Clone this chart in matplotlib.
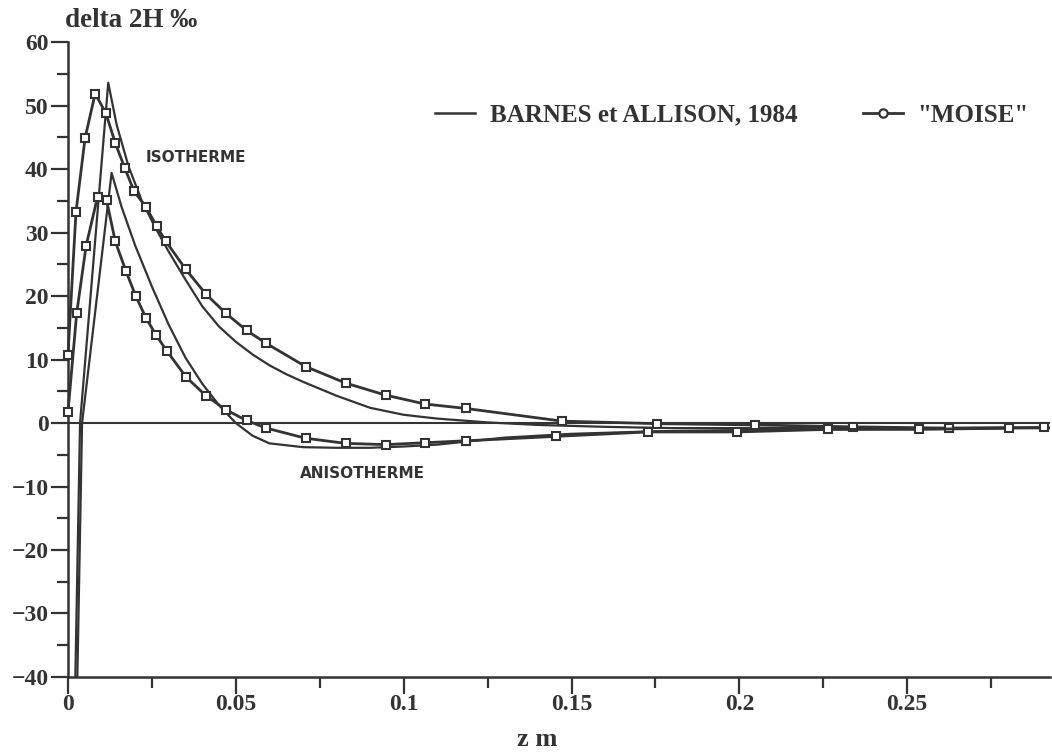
import matplotlib
matplotlib.use("Agg")
import matplotlib.pyplot as plt
from matplotlib.lines import Line2D
from matplotlib.ticker import MultipleLocator

# ---- data ----
barnes_iso_z = [0.0022, 0.0036, 0.0120, 0.0145, 0.0180, 0.0220, 0.0260, 0.0300,
                0.0350, 0.0400, 0.0450, 0.0500, 0.0550, 0.0600, 0.0650, 0.0700,
                0.0800, 0.0900, 0.1000, 0.1100, 0.1250, 0.1400, 0.1600, 0.1800,
                0.2000, 0.2300, 0.2600, 0.2950]
barnes_iso_d = [-40.0, 0.0, 53.6, 47.0, 40.5, 35.0, 30.8, 27.0,
                22.6, 18.4, 15.2, 12.8, 10.8, 9.1, 7.7, 6.5,
                4.3, 2.4, 1.3, 0.7, 0.1, -0.3, -0.6, -0.8,
                -0.8, -0.8, -0.8, -0.7]

barnes_aniso_z = [0.0028, 0.0042, 0.0130, 0.0160, 0.0200, 0.0250, 0.0300, 0.0350,
                  0.0400, 0.0450, 0.0500, 0.0550, 0.0600, 0.0700, 0.0800, 0.0900,
                  0.1000, 0.1100, 0.1300, 0.1500, 0.1750, 0.2000, 0.2500, 0.2950]
barnes_aniso_d = [-40.0, 0.0, 39.4, 34.0, 28.0, 21.5, 15.5, 10.3,
                  6.2, 2.8, 0.0, -2.0, -3.2, -3.8, -3.9, -3.9,
                  -3.7, -3.4, -2.3, -1.7, -1.3, -1.1, -0.9, -0.8]

moise_iso_z = [0.0, 0.0024, 0.0051, 0.0081, 0.0113, 0.0141, 0.0169, 0.0197, 0.0233,
               0.0264, 0.0292, 0.0351, 0.0411, 0.0470, 0.0532, 0.0589, 0.0708,
               0.0827, 0.0946, 0.1063, 0.1185, 0.1472, 0.1756, 0.2048, 0.2337,
               0.2625, 0.2908]
moise_iso_d = [10.7, 33.3, 44.9, 51.9, 48.8, 44.1, 40.2, 36.5, 34.0,
               31.0, 28.6, 24.2, 20.3, 17.3, 14.6, 12.6, 8.9,
               6.3, 4.4, 3.0, 2.3, 0.3, -0.1, -0.3, -0.6,
               -0.8, -0.7]

moise_aniso_z = [0.0, 0.0026, 0.0054, 0.0088, 0.0115, 0.0141, 0.0173, 0.0202, 0.0232,
                 0.0262, 0.0294, 0.0351, 0.0411, 0.0470, 0.0532, 0.0591, 0.0708,
                 0.0827, 0.0946, 0.1063, 0.1185, 0.1454, 0.1727, 0.1994, 0.2265,
                 0.2536, 0.2804]
moise_aniso_d = [1.7, 17.3, 27.9, 35.6, 35.1, 28.6, 23.9, 20.0, 16.6,
                 13.9, 11.4, 7.3, 4.3, 2.1, 0.4, -0.8, -2.4,
                 -3.2, -3.4, -3.1, -2.8, -2.1, -1.4, -1.4, -1.0,
                 -1.0, -0.8]

x_ticks = [0, 0.05, 0.1, 0.15, 0.2, 0.25]
x_tick_labels = ["0", "0.05", "0.1", "0.15", "0.2", "0.25"]
y_ticks = [-40, -30, -20, -10, 0, 10, 20, 30, 40, 50, 60]

ink = "#333333"
serif = ["Liberation Serif", "DejaVu Serif"]

fig = plt.figure(figsize=(10.52, 7.53), dpi=100)
ax = fig.add_axes([0.0646, 0.101, 0.9334, 0.843])

ax.axhline(0, color=ink, lw=1.5, zorder=1)

ax.plot(barnes_iso_z, barnes_iso_d, color=ink, lw=1.6, zorder=2)
ax.plot(barnes_aniso_z, barnes_aniso_d, color=ink, lw=1.6, zorder=2)
mk = dict(color=ink, lw=2.0, marker="s", markersize=5.5, markerfacecolor="white",
          markeredgecolor=ink, markeredgewidth=1.5, zorder=3, clip_on=False)
ax.plot(moise_iso_z, moise_iso_d, **mk)
ax.plot(moise_aniso_z, moise_aniso_d, **mk)

ax.set_xlim(0, 0.2925)
ax.set_ylim(-40, 60)
ax.spines["top"].set_visible(False)
ax.spines["right"].set_visible(False)
for s in ("left", "bottom"):
    ax.spines[s].set_color(ink)
    ax.spines[s].set_linewidth(1.8)

ax.set_xticks(x_ticks)
ax.set_xticklabels(x_tick_labels)
ax.set_yticks(y_ticks)
ax.xaxis.set_minor_locator(MultipleLocator(0.025))
ax.yaxis.set_minor_locator(MultipleLocator(5))
ax.tick_params(axis="both", which="major", length=12, width=1.6, color=ink,
               labelsize=17, labelcolor=ink, direction="out", pad=2)
ax.tick_params(axis="x", which="major", pad=0)
ax.tick_params(axis="both", which="minor", length=8, width=1.6, color=ink,
               direction="out")
for lab in ax.get_xticklabels() + ax.get_yticklabels():
    lab.set_family(serif)
    lab.set_fontweight("bold")

fig.text(0.511, 0.018, "z m", fontsize=19, family=serif, fontweight="bold",
         color=ink, va="center", ha="center")
fig.text(0.062, 0.990, "delta 2H \u2030", fontsize=19.5, family=serif,
         fontweight="bold", color=ink, va="top", ha="left")

ax.text(0.0230, 41.9, "ISOTHERME", fontsize=11, family="DejaVu Sans",
        fontweight="bold", color=ink, va="center", ha="left")
ax.text(0.0690, -7.9, "ANISOTHERME", fontsize=11, family="DejaVu Sans",
        fontweight="bold", color=ink, va="center", ha="left")

h_barnes = Line2D([], [], color=ink, lw=1.8)
h_moise = Line2D([], [], color=ink, lw=2.0, marker="o", markersize=6,
                 markerfacecolor="white", markeredgecolor=ink, markeredgewidth=1.6)
leg = ax.legend([h_barnes, h_moise], ["BARNES et ALLISON, 1984", '"MOISE"'],
                loc="center left", bbox_to_anchor=(435 / 1052, 1 - 115 / 753),
                bbox_transform=fig.transFigure, ncol=2,
                frameon=False, handlelength=1.6, handletextpad=0.6,
                columnspacing=2.6, borderpad=0, borderaxespad=0,
                prop={"family": serif, "weight": "bold", "size": 18})
for t in leg.get_texts():
    t.set_color(ink)

fig.savefig("out.png", dpi=100)
